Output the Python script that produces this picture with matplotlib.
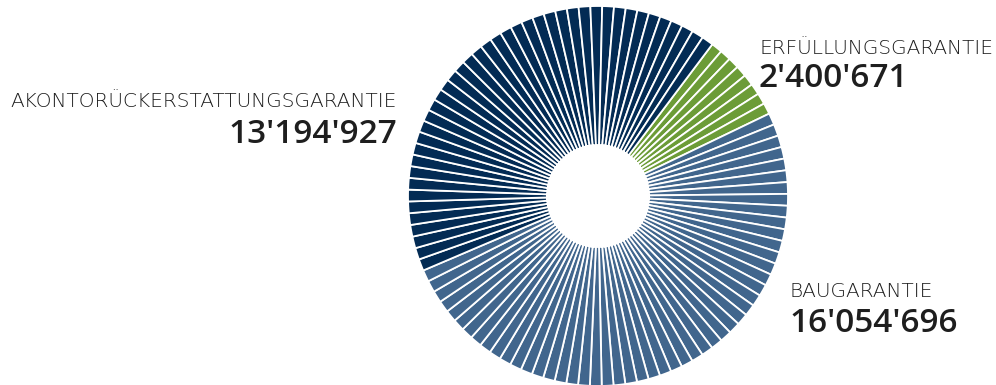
import matplotlib.pyplot as plt

categories = ["ERFÜLLUNGSGARANTIE", "BAUGARANTIE", "AKONTORÜCKERSTATTUNGSGARANTIE"]
values = [2400671, 16054696, 13194927]
value_labels = ["2'400'671", "16'054'696", "13'194'927"]
colors = ["#6c9c37", "#41668d", "#032b54"]

plt.rcParams['font.family'] = ['Open Sans', 'DejaVu Sans']

fig = plt.figure(figsize=(9.96, 3.85), dpi=100)
ax = fig.add_axes([0, 0, 1, 1])

# each category is cut into thin slices of roughly one percent each
total = sum(values)
seg_vals, seg_cols = [], []
for v, c in zip(values, colors):
    n = max(1, round(v / total * 100))
    seg_vals += [v / n] * n
    seg_cols += [c] * n

ax.pie(seg_vals, colors=seg_cols, startangle=53, counterclock=False,
       radius=190, center=(598, 189),
       wedgeprops=dict(width=139, edgecolor='white', linewidth=1.3))

ax.set_xlim(0, 996)
ax.set_ylim(0, 385)
ax.set_aspect('equal')
ax.axis('off')

name_style = dict(fontsize=14.5, color='#1c1c1c', fontweight=200,
                  family=['DejaVu Sans'], va='baseline')
num_style = dict(fontsize=24, color='#1e1e1e', fontweight='semibold',
                 va='baseline')

ax.text(760, 331, categories[0], ha='left', **name_style)
ax.text(759, 298, value_labels[0], ha='left', **num_style)

ax.text(790, 88, categories[1], ha='left', **name_style)
ax.text(789, 53, value_labels[1], ha='left', **num_style)

ax.text(397, 278, categories[2], ha='right', **name_style)
ax.text(397, 242, value_labels[2], ha='right', **num_style)

fig.savefig("out.png", dpi=100)
